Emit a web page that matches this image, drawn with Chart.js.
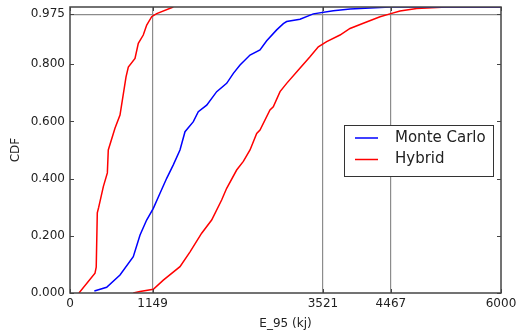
<!DOCTYPE html>
<html>
<head>
<meta charset="utf-8">
<script src="https://cdn.jsdelivr.net/npm/chart.js@4/dist/chart.umd.min.js"></script>
<style>
  html, body { margin: 0; padding: 0; background: #fff; }
</style>
</head>
<body>
<canvas id="cdfChart" width="530" height="335"></canvas>
<script>
// values
var xTicks = [0, 1149, 3521, 4467, 6000];
var yTicks = [0, 0.2, 0.4, 0.6, 0.8, 0.975];
var guideX = [1149, 3521, 4467];
var guideY = [0.975];

var mcE   = [339, 510, 696, 881, 975, 1067, 1160, 1253, 1346, 1438, 1531, 1601, 1717, 1786, 1903, 2042, 2181, 2274, 2367, 2506, 2645, 2738, 2877, 2970, 3016, 3202, 3387, 3666, 3900, 4455, 6000];
var mcCdf = [0.007, 0.02, 0.063, 0.127, 0.203, 0.255, 0.296, 0.349, 0.401, 0.448, 0.5, 0.564, 0.599, 0.634, 0.657, 0.704, 0.733, 0.768, 0.797, 0.832, 0.85, 0.882, 0.92, 0.942, 0.949, 0.957, 0.976, 0.987, 0.993, 1.0, 1.0];

var hybAE   = [125, 348, 365, 380, 400, 464, 520, 533, 626, 696, 780, 812, 905, 951, 1020, 1068, 1137, 1207, 1438];
var hybACdf = [0, 0.069, 0.09, 0.28, 0.3, 0.372, 0.42, 0.5, 0.576, 0.622, 0.756, 0.79, 0.82, 0.873, 0.902, 0.937, 0.966, 0.977, 1.0];

var hybBE   = [881, 975, 1160, 1299, 1531, 1671, 1833, 1972, 2111, 2181, 2320, 2413, 2506, 2599, 2645, 2784, 2830, 2924, 3016, 3179, 3341, 3457, 3573, 3759, 3898, 4083, 4316, 4455, 4594, 4826, 5244, 6000];
var hybBCdf = [0, 0.005, 0.013, 0.045, 0.092, 0.144, 0.209, 0.255, 0.325, 0.366, 0.43, 0.46, 0.5, 0.558, 0.57, 0.64, 0.651, 0.704, 0.733, 0.78, 0.826, 0.861, 0.879, 0.902, 0.925, 0.943, 0.966, 0.976, 0.986, 0.995, 1.0, 1.0];

function pts(xs, ys) {
    return xs.map(function (x, i) { return { x: x, y: ys[i] }; });
}

var fontFam = "'DejaVu Sans', sans-serif";
var frameColor = '#444';

// frame, inward ticks and the boxed legend (matplotlib look)
var framePlugin = {
    id: 'frame',
    afterDraw: function (chart) {
        var c = chart.ctx, a = chart.chartArea;
        var sx = chart.scales.x, sy = chart.scales.y;
        c.save();
        c.strokeStyle = frameColor;
        c.lineWidth = 1;
        yTicks.forEach(function (v) {
            var y = Math.round(sy.getPixelForValue(v)) + 0.5;
            c.beginPath();
            c.moveTo(a.left, y); c.lineTo(a.left + 4, y);
            c.moveTo(a.right, y); c.lineTo(a.right - 4, y);
            c.stroke();
        });
        xTicks.forEach(function (v) {
            var x = Math.round(sx.getPixelForValue(v)) + 0.5;
            c.beginPath();
            c.moveTo(x, a.bottom); c.lineTo(x, a.bottom - 4);
            c.moveTo(x, a.top); c.lineTo(x, a.top + 4);
            c.stroke();
        });
        c.lineWidth = 1.5;
        c.strokeRect(a.left, a.top, a.right - a.left, a.bottom - a.top);

        // legend box
        var items = chart.data.datasets.filter(function (d) { return !d.hideInLegend; });
        var bx = 344, by = 125, bw = 149, bh = 51;
        c.fillStyle = '#fff';
        c.fillRect(bx, by, bw, bh);
        c.lineWidth = 1;
        c.strokeStyle = '#333';
        c.strokeRect(bx + 0.5, by + 0.5, bw, bh);
        c.font = '15px ' + fontFam;
        c.textBaseline = 'middle';
        items.forEach(function (d, i) {
            var y = by + 13 + i * 21.5;
            c.strokeStyle = d.borderColor;
            c.lineWidth = 1.5;
            c.beginPath();
            c.moveTo(bx + 11, y); c.lineTo(bx + 34, y);
            c.stroke();
            c.fillStyle = '#222';
            c.fillText(d.label, bx + 51, y);
        });
        c.restore();
    }
};

var ctx = document.getElementById('cdfChart').getContext('2d');
var chart = new Chart(ctx, {
    type: 'line',
    data: {
        datasets: [{
            label: 'Monte Carlo',
            data: pts(mcE, mcCdf),
            borderColor: '#0000ff',
            borderWidth: 1.5,
            pointRadius: 0,
            tension: 0
        }, {
            label: 'Hybrid',
            data: pts(hybAE, hybACdf),
            borderColor: '#ff0000',
            borderWidth: 1.5,
            pointRadius: 0,
            tension: 0
        }, {
            label: 'Hybrid',
            hideInLegend: true,
            data: pts(hybBE, hybBCdf),
            borderColor: '#ff0000',
            borderWidth: 1.5,
            pointRadius: 0,
            tension: 0
        }]
    },
    options: {
        responsive: false,
        animation: false,
        layout: { padding: { top: 7, right: 29, left: 0, bottom: 0 } },
        plugins: {
            legend: { display: false },
            tooltip: { enabled: false }
        },
        scales: {
            x: {
                type: 'linear',
                min: 0,
                max: 6000,
                afterBuildTicks: function (s) { s.ticks = xTicks.map(function (v) { return { value: v }; }); },
                afterFit: function (s) { s.height = 42; s.paddingLeft = 0; s.paddingRight = 0; },
                ticks: {
                    autoSkip: false,
                    maxRotation: 0,
                    padding: 4,
                    color: '#222',
                    font: { family: fontFam, size: 12 },
                    callback: function (v) { return String(v); }
                },
                grid: {
                    drawTicks: false,
                    lineWidth: 1.2,
                    color: function (c) { return c.tick && guideX.indexOf(c.tick.value) >= 0 ? '#8c8c8c' : 'rgba(0,0,0,0)'; }
                },
                border: { display: false },
                title: {
                    display: true,
                    text: 'E_95 (kj)',
                    color: '#222',
                    font: { family: fontFam, size: 12 },
                    padding: { top: 4, bottom: 4 }
                }
            },
            y: {
                min: 0,
                max: 1,
                afterBuildTicks: function (s) { s.ticks = yTicks.map(function (v) { return { value: v }; }); },
                afterFit: function (s) { s.width = 70; s.paddingTop = 0; s.paddingBottom = 0; },
                ticks: {
                    autoSkip: false,
                    padding: 5,
                    color: '#222',
                    font: { family: fontFam, size: 12 },
                    callback: function (v) { return Number(v).toFixed(3); }
                },
                grid: {
                    drawTicks: false,
                    lineWidth: 1.2,
                    color: function (c) { return c.tick && guideY.indexOf(c.tick.value) >= 0 ? '#8c8c8c' : 'rgba(0,0,0,0)'; }
                },
                border: { display: false },
                title: {
                    display: true,
                    text: 'CDF',
                    color: '#222',
                    font: { family: fontFam, size: 12 },
                    padding: { top: 9, bottom: 4 }
                }
            }
        }
    },
    plugins: [framePlugin]
});
</script>
</body>
</html>
